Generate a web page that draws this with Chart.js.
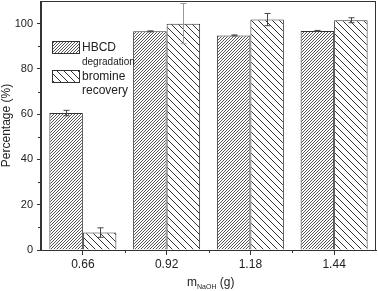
<!DOCTYPE html>
<html>
<head>
<meta charset="utf-8">
<script src="https://cdn.jsdelivr.net/npm/chart.js@4/dist/chart.umd.min.js"></script>
<style>
    html, body { margin: 0; padding: 0; background: #fff; }
    #wrap { width: 378px; height: 291px; }
</style>
</head>
<body>
<div id="wrap"><canvas id="bar_chart_canvas"></canvas></div>
<script>
// Data
const labels = ['0.66', '0.92', '1.18', '1.44'];
const hbcd = [60.5, 96.6, 94.8, 96.8];
const hbcd_err = [1.2, 0.2, 0.2, 0.2];
const bromine = [7.7, 100.0, 101.8, 101.5];
const bromine_err = [2.1, 8.9, 2.7, 1.1];
const y_ticks = [0, 20, 40, 60, 80, 100];
const y_minor = [10, 30, 50, 70, 90];

const FONT = "'Liberation Sans', Arial, sans-serif";

// Hatch pattern for the bars ('/' dense or '\' wide)
function make_hatch(size, dir, color) {
    let c = document.createElement('canvas');
    c.width = size; c.height = size;
    let g = c.getContext('2d');
    g.fillStyle = '#fff';
    g.fillRect(0, 0, size, size);
    g.strokeStyle = color;
    g.lineWidth = 1;
    g.beginPath();
    if (dir === '/') {
        g.moveTo(-1, size + 1); g.lineTo(size + 1, -1);
        g.moveTo(-1, 1); g.lineTo(1, -1);
        g.moveTo(size - 1, size + 1); g.lineTo(size + 1, size - 1);
    } else {
        g.moveTo(-1, -1); g.lineTo(size + 1, size + 1);
        g.moveTo(size - 1, -1); g.lineTo(size + 1, 1);
        g.moveTo(-1, size - 1); g.lineTo(1, size + 1);
    }
    g.stroke();
    return g.createPattern(c, 'repeat');
}

const hbcd_fill = make_hatch(3, '/', '#555');
const bromine_fill = make_hatch(7, '\\', '#333');

// Error bars, minor ticks, frame, legend and x title
const extras = {
    id: 'extras',
    afterDatasetsDraw(chart) {
        let ctx = chart.ctx;
        let y = chart.scales.y;
        let errs = [hbcd_err, bromine_err];
        ctx.save();
        ctx.lineWidth = 1;
        chart.data.datasets.forEach((ds, d) => {
            chart.getDatasetMeta(d).data.forEach((bar, i) => {
                let x = Math.round(bar.x) + 0.5;
                let top = y.getPixelForValue(ds.data[i] + errs[d][i]);
                let bot = y.getPixelForValue(ds.data[i] - errs[d][i]);
                ctx.strokeStyle = (d === 1 && i === 1) ? '#999' : '#444';
                ctx.beginPath();
                ctx.moveTo(x, top); ctx.lineTo(x, bot);
                ctx.moveTo(x - 3, top); ctx.lineTo(x + 3, top);
                ctx.moveTo(x - 3, bot); ctx.lineTo(x + 3, bot);
                ctx.stroke();
            });
        });
        ctx.restore();
    },
    afterDraw(chart) {
        let ctx = chart.ctx;
        let a = chart.chartArea;
        let xs = chart.scales.x, ys = chart.scales.y;
        ctx.save();
        ctx.strokeStyle = '#333';
        ctx.lineWidth = 1;
        // frame
        ctx.strokeRect(Math.round(a.left) - 0.5, Math.round(a.top) + 0.5,
            Math.round(a.right - a.left), Math.round(a.bottom - a.top));
        // minor ticks
        ctx.beginPath();
        y_minor.forEach(v => {
            let py = Math.round(ys.getPixelForValue(v)) + 0.5;
            ctx.moveTo(a.left - 3, py); ctx.lineTo(a.left, py);
        });
        for (let i = 0; i < labels.length - 1; i++) {
            let px = Math.round((xs.getPixelForValue(i) + xs.getPixelForValue(i + 1)) / 2) + 0.5;
            ctx.moveTo(px, a.bottom); ctx.lineTo(px, a.bottom + 3);
        }
        ctx.stroke();

        // legend
        let items = [
            { fill: hbcd_fill, y: 41, lines: [['HBCD', 12, 48], ['degradation', 10, 62]] },
            { fill: bromine_fill, y: 70, lines: [['bromine', 12, 77], ['recovery', 12, 91]] }
        ];
        ctx.textBaseline = 'middle';
        ctx.textAlign = 'left';
        items.forEach(it => {
            ctx.fillStyle = it.fill;
            ctx.fillRect(52, it.y, 27, 12);
            ctx.strokeStyle = '#333';
            ctx.strokeRect(52.5, it.y + 0.5, 27, 12);
            ctx.fillStyle = '#222';
            it.lines.forEach(l => {
                ctx.font = l[1] + 'px ' + FONT;
                ctx.fillText(l[0], 82, l[2]);
            });
        });

        // x axis title with subscript
        ctx.textBaseline = 'alphabetic';
        ctx.font = '12px ' + FONT;
        let tx = 187;
        ctx.fillText('m', tx, 286);
        tx += ctx.measureText('m').width;
        ctx.font = '7px ' + FONT;
        ctx.fillText('NaOH', tx, 289);
        tx += ctx.measureText('NaOH').width;
        ctx.font = '12px ' + FONT;
        ctx.fillText(' (g)', tx, 286);
        ctx.restore();
    }
};

let datapoints = {
    labels: labels,
    datasets: [{
        label: 'HBCD degradation',
        data: hbcd,
        backgroundColor: hbcd_fill,
        borderColor: '#333',
        borderWidth: 1
    }, {
        label: 'bromine recovery',
        data: bromine,
        backgroundColor: bromine_fill,
        borderColor: '#333',
        borderWidth: 1
    }]
};

let context = document.getElementById('bar_chart_canvas').getContext('2d');

let bar_chart = new Chart(context, {
    type: 'bar',
    data: datapoints,
    options: {
        responsive: true,
        maintainAspectRatio: false,
        animation: false,
        datasets: { bar: { categoryPercentage: 0.8, barPercentage: 1.0 } },
        layout: { padding: { top: 1, right: 2, left: 0, bottom: 0 } },
        plugins: { legend: { display: false }, tooltip: { enabled: false } },
        scales: {
            x: {
                offset: true,
                grid: { offset: false, drawOnChartArea: false, tickLength: 5, color: '#333' },
                border: { color: '#333' },
                ticks: { color: '#222', font: { size: 12, family: FONT }, padding: 2 },
                afterFit: s => { s.height = 41; s.paddingLeft = 0; s.paddingRight = 0; }
            },
            y: {
                min: 0,
                max: 110,
                afterBuildTicks: s => { s.ticks = y_ticks.map(v => ({ value: v })); },
                grid: { drawOnChartArea: false, tickLength: 4, color: '#333' },
                border: { color: '#333' },
                ticks: { color: '#222', font: { size: 11, family: FONT }, padding: 4 },
                title: { display: true, text: 'Percentage (%)', color: '#222',
                         font: { size: 12, family: FONT }, padding: { top: -1, bottom: 0 } },
                afterFit: s => { s.width = 41; s.paddingTop = 0; s.paddingBottom = 0; }
            }
        }
    },
    plugins: [extras]
});
</script>
</body>
</html>
